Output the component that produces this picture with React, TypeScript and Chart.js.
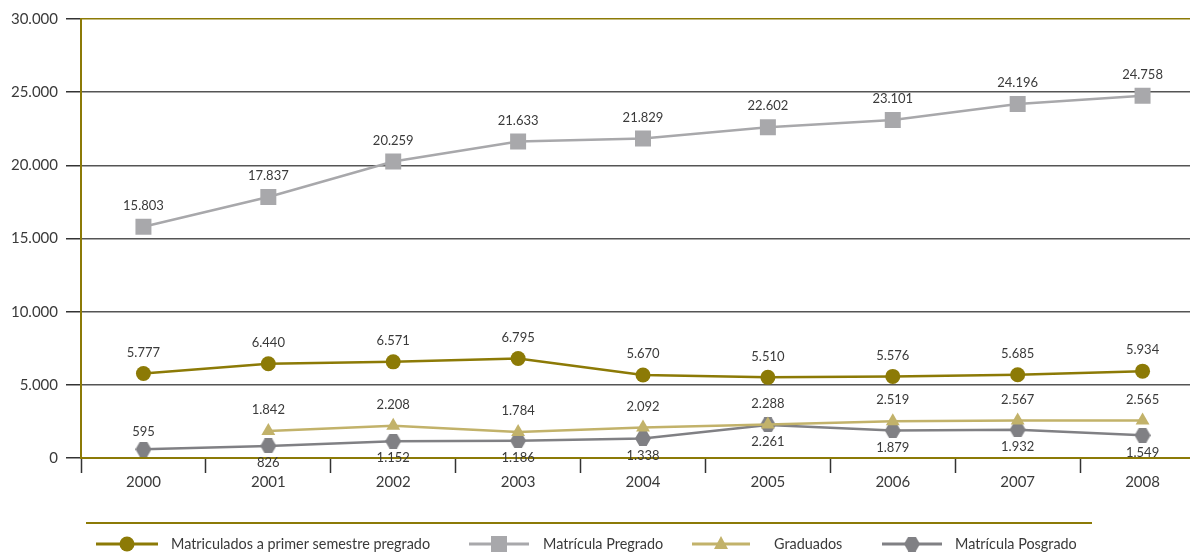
import React, { useEffect, useRef } from 'react';
import { Chart, registerables } from 'chart.js';

Chart.register(...registerables);

const years = ['2000', '2001', '2002', '2003', '2004', '2005', '2006', '2007', '2008'];
const matriculadosPrimer = [5777, 6440, 6571, 6795, 5670, 5510, 5576, 5685, 5934];
const matriculaPregrado = [15803, 17837, 20259, 21633, 21829, 22602, 23101, 24196, 24758];
const graduados = [null, 1842, 2208, 1784, 2092, 2288, 2519, 2567, 2565];
const matriculaPosgrado = [595, 826, 1152, 1186, 1338, 2261, 1879, 1932, 1549];
const posgradoLabelSide = ['top', 'bottom', 'bottom', 'bottom', 'bottom', 'bottom', 'bottom', 'bottom', 'bottom'];
const seriesNames = [
  'Matriculados a primer semestre pregrado',
  'Matrícula Pregrado',
  'Graduados',
  'Matrícula Posgrado',
];

const OLIVE = '#8c7a06';
const LIGHTGRAY = '#a8a8ab';
const KHAKI = '#c2b26a';
const DARKGRAY = '#808084';
const TEXT = '#3a3a3a';
const FONT = 'Lato, "Open Sans", sans-serif';

function fmt(n: number): string {
  return String(n).replace(/\B(?=(\d{3})+(?!\d))/g, '.');
}

function makeHex(color: string, w = 16, h = 15): HTMLCanvasElement {
  const c = document.createElement('canvas');
  c.width = w;
  c.height = h;
  const g = c.getContext('2d')!;
  g.fillStyle = color;
  g.beginPath();
  g.moveTo(0, h / 2);
  g.lineTo(w * 0.27, 0);
  g.lineTo(w * 0.73, 0);
  g.lineTo(w, h / 2);
  g.lineTo(w * 0.73, h);
  g.lineTo(w * 0.27, h);
  g.closePath();
  g.fill();
  return c;
}

export default function App() {
  const ref = useRef<HTMLCanvasElement | null>(null);

  useEffect(() => {
    if (!ref.current) return;
    const hex = makeHex(DARKGRAY);

    const labelPlugin = {
      id: 'valueLabels',
      afterDatasetsDraw(chart: any) {
        const ctx = chart.ctx;
        ctx.save();
        ctx.font = `13px ${FONT}`;
        ctx.fillStyle = TEXT;
        ctx.textAlign = 'center';
        ctx.textBaseline = 'middle';
        chart.data.datasets.forEach((ds: any, di: number) => {
          const meta = chart.getDatasetMeta(di);
          meta.data.forEach((pt: any, i: number) => {
            const v = ds.data[i];
            if (v === null || v === undefined) return;
            let dy = -21;
            if (di === 3) dy = posgradoLabelSide[i] === 'top' ? -17 : 17;
            ctx.fillText(fmt(v), pt.x, pt.y + dy);
          });
        });
        ctx.restore();
      },
    };

    const legendPos = [
      [96, 158, 171],
      [469, 529, 543],
      [692, 750, 774],
      [882, 942, 955],
    ];

    const legendPlugin = {
      id: 'customLegend',
      afterDraw(chart: any) {
        const ctx = chart.ctx;
        ctx.save();
        ctx.strokeStyle = OLIVE;
        ctx.lineWidth = 2;
        ctx.beginPath();
        ctx.moveTo(86, 523);
        ctx.lineTo(1092, 523);
        ctx.stroke();
        const y = 544;
        chart.data.datasets.forEach((ds: any, i: number) => {
          const [x0, x1, tx] = legendPos[i];
          const cx = (x0 + x1) / 2;
          ctx.strokeStyle = ds.borderColor;
          ctx.lineWidth = 3;
          ctx.beginPath();
          ctx.moveTo(x0, y);
          ctx.lineTo(x1, y);
          ctx.stroke();
          ctx.fillStyle = ds.borderColor;
          if (i === 0) {
            ctx.beginPath();
            ctx.arc(cx, y, 7.5, 0, Math.PI * 2);
            ctx.fill();
          } else if (i === 1) {
            ctx.fillRect(cx - 8, y - 8, 16, 16);
          } else if (i === 2) {
            ctx.beginPath();
            ctx.moveTo(cx, y - 8);
            ctx.lineTo(cx + 7, y + 5);
            ctx.lineTo(cx - 7, y + 5);
            ctx.closePath();
            ctx.fill();
          } else {
            ctx.drawImage(hex, cx - 8, y - 7.5);
          }
          ctx.fillStyle = TEXT;
          ctx.font = `14.4px ${FONT}`;
          ctx.textAlign = 'left';
          ctx.textBaseline = 'middle';
          ctx.fillText(ds.label, tx, y);
        });
        ctx.restore();
      },
    };

    const chart = new Chart(ref.current, {
      type: 'line',
      data: {
        labels: years,
        datasets: [
          {
            label: seriesNames[0],
            data: matriculadosPrimer,
            borderColor: OLIVE,
            backgroundColor: OLIVE,
            borderWidth: 2.5,
            pointStyle: 'circle',
            pointRadius: 7.5,
            pointHoverRadius: 7.5,
            pointBorderWidth: 0,
          },
          {
            label: seriesNames[1],
            data: matriculaPregrado,
            borderColor: LIGHTGRAY,
            backgroundColor: LIGHTGRAY,
            borderWidth: 2.5,
            pointStyle: 'rect',
            pointRadius: 11.3,
            pointHoverRadius: 11.3,
            pointBorderWidth: 0,
          },
          {
            label: seriesNames[2],
            data: graduados,
            borderColor: KHAKI,
            backgroundColor: KHAKI,
            borderWidth: 2.5,
            pointStyle: 'triangle',
            pointRadius: 8,
            pointHoverRadius: 8,
            pointBorderWidth: 0,
          },
          {
            label: seriesNames[3],
            data: matriculaPosgrado,
            borderColor: DARKGRAY,
            backgroundColor: DARKGRAY,
            borderWidth: 2.5,
            pointStyle: hex,
            pointRadius: 8,
            pointHoverRadius: 8,
            pointBorderWidth: 0,
          },
        ],
      },
      options: {
        responsive: false,
        maintainAspectRatio: false,
        animation: false,
        devicePixelRatio: 1,
        layout: { autoPadding: false, padding: { top: 19, left: 0, right: 0, bottom: 0 } },
        plugins: {
          legend: { display: false },
          tooltip: { enabled: false },
        },
        scales: {
          x: {
            offset: true,
            grid: {
              offset: true,
              drawOnChartArea: false,
              drawTicks: true,
              tickLength: 15,
              tickColor: '#333333',
              tickWidth: 1.5,
            },
            border: { color: OLIVE, width: 2 },
            ticks: {
              color: TEXT,
              font: { family: FONT, size: 15 },
              padding: 0,
            },
            afterFit(scale: any) {
              scale.height = 96;
              scale.paddingLeft = 0;
              scale.paddingRight = 0;
            },
          },
          y: {
            min: 0,
            max: 30000,
            grid: {
              color: (c: any) =>
                c.tick && (c.tick.value === 0 || c.tick.value === 30000) ? OLIVE : '#555555',
              lineWidth: 1.5,
              tickLength: 15,
              tickColor: '#333333',
              tickWidth: 1.5,
            },
            border: { color: OLIVE, width: 2 },
            ticks: {
              stepSize: 5000,
              color: TEXT,
              font: { family: FONT, size: 15 },
              padding: 8,
              callback: (v: any) => fmt(Number(v)),
            },
            afterFit(scale: any) {
              scale.width = 81;
            },
          },
        },
      },
      plugins: [labelPlugin, legendPlugin],
    });
    return () => chart.destroy();
  }, []);

  return (
    <div
      style={{
        position: 'fixed',
        left: 0,
        top: 0,
        width: 1190,
        height: 554,
        overflow: 'hidden',
        background: '#ffffff',
      }}
    >
      <div style={{ position: 'absolute', left: 0, top: 0, width: 1205, height: 554 }}>
        <canvas
          ref={ref}
          width={1205}
          height={554}
          style={{ display: 'block', width: 1205, height: 554 }}
        />
      </div>
    </div>
  );
}
